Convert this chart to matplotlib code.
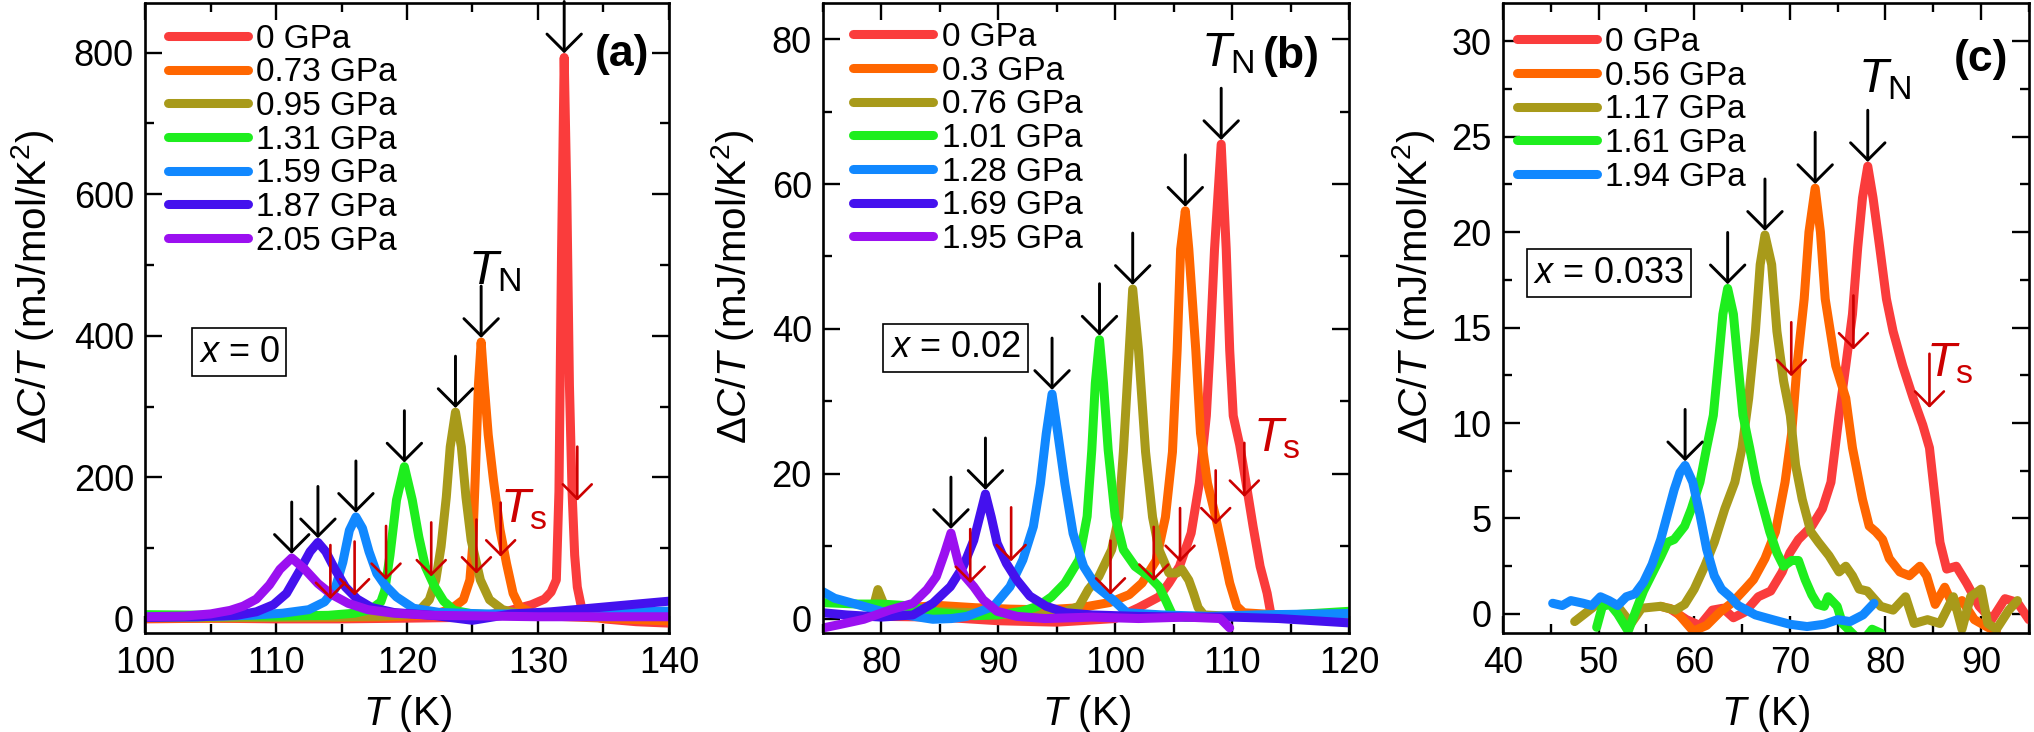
import matplotlib
matplotlib.use("Agg")
import matplotlib.pyplot as plt
from matplotlib.ticker import MultipleLocator

# ---------------- panel (a) : x = 0 ----------------
A_LABELS = ["0 GPa", "0.73 GPa", "0.95 GPa", "1.31 GPa", "1.59 GPa", "1.87 GPa", "2.05 GPa"]

A_T_0 = [100, 105, 110, 115, 120, 124, 126, 127.5, 128.5, 129.5, 130.5, 131.0, 131.4, 131.6, 131.8,
         132.0, 132.2, 132.4, 132.6, 132.8, 133.0, 133.3, 133.8, 135, 137.5, 140]
A_C_0 = [0, 1, 0, 0, 1, 2, 5, 10, 15, 20, 28, 38, 55, 180, 520,
         793, 600, 330, 180, 90, 45, 18, 6, 0, -4, -6]

A_T_1 = [100, 105, 110, 115, 119, 121, 122.3, 123.3, 124.3, 124.8, 125.0, 125.2, 125.45, 125.66,
         125.9, 126.2, 126.6, 127.1, 127.6, 128.1, 128.6, 129.6, 131, 135, 140]
A_C_1 = [1, 1, 2, 2, 3, 5, 8, 13, 27, 55, 100, 195, 330, 391,
         330, 260, 196, 126, 78, 36, 17, 8, 4, 1, -3]

A_T_2 = [100, 105, 110, 115, 118, 120, 121, 121.7, 122.2, 122.6, 123.0, 123.3, 123.7, 124.15,
         124.5, 124.9, 125.6, 126.3, 127.3, 128.4, 131, 135, 140]
A_C_2 = [2, 2, 2, 3, 4, 6, 13, 27, 55, 102, 172, 243, 292, 243,
         172, 111, 55, 27, 13, 8, 5, 4, 4]

A_T_3 = [100, 105, 110, 114, 116, 117.2, 118.0, 118.3, 118.7, 119.2, 119.8, 120.4, 120.9, 121.4,
         122.1, 122.8, 123.6, 125, 128, 132, 136, 140]
A_C_3 = [6, 5, 4, 5, 8, 13, 24, 40, 90, 168, 215, 168, 116, 74,
         46, 25, 12, 7, 5, 4, 4, 5]

A_T_4 = [100, 104, 108, 110.5, 112.5, 113.7, 114.5, 115.1, 115.6, 116.1, 116.6, 117.1, 117.7,
         118.3, 119.2, 120.5, 122.5, 126, 130, 135, 140]
A_C_4 = [3, 3, 5, 8, 13, 24, 42, 80, 125, 144, 128, 95, 64,
         48, 31, 15, 9, 7, 7, 9, 11]

A_T_5 = [100, 104, 107, 108.5, 109.8, 110.8, 111.8, 112.6, 113.2, 113.8, 114.5, 115.3, 116.2,
         117.3, 119, 122, 125, 128, 131, 134, 137, 140]
A_C_5 = [2, 3, 5, 10, 20, 36, 68, 95, 108, 95, 70, 45, 28,
         16, 9, 5, -2, 7, 10, 15, 20, 25]

A_T_6 = [100, 103, 105, 106.5, 107.5, 108.5, 109.5, 110.3, 111.2, 112.2, 113.2, 114.2, 115.5,
         117, 119, 122, 126, 130, 135, 140]
A_C_6 = [3, 4, 7, 12, 18, 28, 48, 70, 86, 70, 50, 35, 22,
         13, 8, 5, 4, 3, 3, 3]

A_TN_T = [132.0, 125.66, 123.7, 119.8, 116.1, 113.2, 111.2]
A_TN_C = [793, 391, 292, 215, 144, 108, 86]
A_TS_T = [133.0, 127.15, 125.3, 121.85, 118.4, 116.0, 114.15]
A_TS_C = [167, 88, 64, 60, 55, 33, 28]

# ---------------- panel (b) : x = 0.02 ----------------
B_LABELS = ["0 GPa", "0.3 GPa", "0.76 GPa", "1.01 GPa", "1.28 GPa", "1.69 GPa", "1.95 GPa"]

B_T_0 = [80, 85, 90, 95, 100, 102, 103.75, 104.6, 105.5, 106.5, 107.2, 107.8, 108.1, 108.5, 109.07,
         109.5, 109.8, 110.1, 110.65, 111.2, 111.8, 112.4, 113.0, 113.3, 114, 117, 120]
B_C_0 = [0.3, 0.2, -0.3, -0.5, 0, 1.5, 3, 4.9, 7.2, 11.8, 18.7, 28, 37, 51, 65.5,
         51, 37, 28, 24, 18.7, 12.7, 7.2, 3.5, 0.8, 0.2, 0.3, 0.2]

B_T_1 = [79.5, 82, 85, 88, 91, 94, 97, 99.5, 101.2, 102.3, 103.5, 104.3, 104.9, 105.3, 105.6, 106.0,
         106.3, 106.9, 107.3, 107.9, 108.6, 109.2, 109.8, 110.4, 111, 114, 117, 120]
B_C_1 = [1.5, 1.5, 1.8, 1.5, 1.3, 1.2, 1.5, 2.2, 3.3, 4.9, 8, 14, 23, 37, 51, 56.3,
         51, 37, 25.6, 18.7, 14, 9.5, 4.9, 1.7, 0.8, 0.5, 0.5, 0.5]

B_T_2 = [79.3, 79.7, 80.2, 81, 84, 88, 92, 95, 96.9, 97.7, 98.6, 99.7, 100.3, 100.7, 101.2, 101.5,
         102.0, 102.6, 103.2, 103.75, 104.6, 105.3, 105.7, 106.3, 106.7, 107.1, 107.6, 110, 114, 120]
B_C_2 = [1.5, 4, 2, 1.2, 1, 0.8, 0.5, 0.5, 1.7, 4, 5.8, 9.5, 14, 23, 37, 45.5,
         37, 23, 14, 9.5, 6.3, 6.3, 6.8, 5.3, 3.5, 1.5, 0.5, 0.3, 0.3, 0.5]

B_T_3 = [75, 78, 80, 82, 85, 88, 90, 92, 93.4, 94.55, 95.7, 96.9, 97.6, 98.0, 98.3, 98.66,
         99.0, 99.4, 100.0, 100.7, 101.7, 102.9, 103.75, 104.3, 104.9, 106, 110, 115, 120]
B_C_3 = [2.2, 2.0, 2.0, 1.8, 0.8, 0.4, 0.5, 1.0, 1.7, 3, 4.9, 8.1, 14.1, 23.3, 32.5, 38.5,
         32.5, 23.3, 14.1, 9.5, 7.2, 5.8, 4.4, 2.6, 0.5, 0.2, 0.3, 0.5, 1.0]

B_T_4 = [75, 76, 77.8, 80, 82, 84.4, 86, 87.3, 89.6, 91.0, 92.1, 93.0, 93.6, 94.1, 94.6,
         95.1, 95.7, 96.4, 97.3, 98.4, 99.8, 101, 104, 108, 112, 116, 120]
B_C_4 = [3.7, 2.8, 2.0, 1.0, 0.5, -0.1, 0, 0.3, 1.7, 4.4, 8.1, 12.7, 18.6, 25.5, 31,
         25.5, 18.6, 11.75, 7.2, 4.4, 2.6, 0.8, 0.5, 0.3, 0.5, 0.6, 0.7]

B_T_5 = [75, 77, 80, 82.7, 84.4, 85.9, 87.0, 87.9, 88.4, 88.9, 89.4, 89.9, 90.7, 91.6, 92.7,
         94.1, 95.8, 98, 102, 106, 110, 114, 117, 120]
B_C_5 = [0.8, 0.5, 0.2, 0.5, 2.1, 4.4, 7.2, 10.8, 14, 17.2, 14, 10.4, 7.6, 5.3, 3.1,
         1.7, 0.8, 0.5, 0.3, 0.2, 0.2, 0, -0.3, -0.6]

B_T_6 = [75, 76.5, 78.5, 80.75, 82.7, 83.9, 84.7, 85.4, 85.95, 86.6, 87.15, 87.9, 88.7, 89.9,
         91.6, 94, 98, 102, 106, 109, 109.8]
B_C_6 = [-1.3, -0.8, -0.1, 1.2, 2.1, 4, 5.8, 9, 11.8, 7.6, 5.8, 4.4, 2.6, 1,
         0.3, 0, 0.2, 0, 0.2, 0, -1.3]

B_TN_T = [109.07, 106.0, 101.5, 98.66, 94.6, 88.9, 85.95]
B_TN_C = [65.5, 56.3, 45.5, 38.5, 31, 17.2, 11.8]
B_TS_T = [111.05, 108.6, 105.55, 103.3, 99.6, 91.1, 87.6]
B_TS_C = [16.8, 13.0, 7.8, 5.2, 3.3, 7.9, 4.9]

# ---------------- panel (c) : x = 0.033 ----------------
C_LABELS = ["0 GPa", "0.56 GPa", "1.17 GPa", "1.61 GPa", "1.94 GPa"]

C_T_0 = [57.4, 59.2, 60.6, 61.9, 63.0, 64.1, 65.3, 66.7, 68.0, 69.2, 70.0, 70.9, 72.3, 73.4, 74.3,
         75.15, 75.85, 76.55, 77.1, 77.6, 78.15, 78.7, 79.4, 80.1, 80.8, 81.8, 82.9, 83.9, 84.6,
         85.2, 85.7, 86.4, 87.4, 88.5, 89.8, 91.1, 92.5, 93.8, 95.0]
C_C_0 = [0.3, -0.3, -0.6, 0.2, 0.3, -0.2, 0.1, 0.9, 1.2, 2.2, 3.2, 3.9, 4.6, 5.5, 6.9,
         10.4, 13.0, 15.7, 19.2, 21.8, 23.45, 21.8, 19.2, 16.5, 14.8, 13.0, 11.3, 9.9, 8.7,
         6.0, 3.75, 2.35, 2.5, 1.6, 0.4, -0.3, 0.8, 0.6, -0.3]

C_T_1 = [56.5, 58, 59.9, 61.3, 62.7, 64, 65.3, 66.2, 67.4, 68.5, 69.5, 70.2, 70.75, 71.5, 72.0,
         72.65, 73.2, 73.7, 74.8, 75.85, 76.55, 77.6, 78.3, 79.0, 79.7, 80.4, 81.5, 82.5, 83.6,
         84.3, 85.2, 86.2, 87.1, 88.0, 89.3, 90.7, 91.6]
C_C_1 = [0.4, 0.2, -0.9, -0.6, 0.1, 0.6, 1.3, 1.8, 2.9, 4.3, 6.9, 9.5, 13.0, 16.5, 20.0,
         22.3, 20.0, 16.5, 13.0, 11.3, 8.7, 6.0, 4.6, 4.3, 3.9, 2.9, 2.2, 2.0, 2.5,
         2.0, 0.5, 1.4, 0.4, 0.7, -0.3, -0.7, -0.9]

C_T_2 = [47.5, 49.3, 50.2, 52.0, 53.4, 54.5, 56.5, 58.0, 59.0, 60.0, 61.1, 62.1, 63.2, 64.25, 65.0,
         65.7, 66.4, 66.9, 67.4, 68.1, 68.65, 69.35, 70.05, 70.6, 71.3, 72.2, 73.0, 74.1, 75.15,
         75.85, 76.55, 77.25, 78.1, 79.5, 80.8, 82.1, 83.0, 84.4, 85.7, 87.1, 88.0, 88.9, 90.0,
         90.7, 91.6, 92.9, 93.8]
C_C_2 = [-0.4, 0.3, 0.7, 0.4, -0.5, 0.3, 0.4, 0.2, 0.5, 1.3, 2.5, 3.75, 5.5, 6.9, 8.7,
         11.3, 14.8, 18.3, 19.85, 18.3, 14.8, 12.2, 10.4, 7.8, 6.0, 4.3, 3.75, 3.05, 2.2,
         2.5, 2.0, 1.3, 1.2, 0.4, 0.2, 0.9, -0.5, -0.3, -0.5, 0.9, -0.8, 0.9, 1.3,
         -0.5, -0.8, 0.2, 0.7]

C_T_3 = [49.8, 50.4, 51.2, 52.0, 53.1, 54.0, 54.7, 55.5, 56.5, 57.2, 57.9, 59.0, 59.7, 60.6, 61.3,
         62.0, 62.5, 63.0, 63.5, 64.1, 64.6, 65.1, 65.8, 66.5, 67.25, 67.9, 68.65, 69.35, 70.2,
         70.9, 71.6, 72.3, 72.9, 73.6, 74.0, 74.95, 75.5, 76.3, 77.5, 78.6, 79.5]
C_C_3 = [-0.7, 0.4, 0.5, 0.0, -0.9, 0.3, 1.2, 2.0, 3.0, 3.75, 3.9, 4.6, 5.5, 6.9, 8.7,
         10.4, 13.0, 15.7, 17.05, 15.7, 13.0, 10.4, 8.7, 6.9, 5.5, 4.3, 3.2, 2.5, 2.8,
         2.8, 1.8, 1.0, 0.5, 0.4, 0.9, 0.4, -0.5, -0.9, -1.5, -0.8, -1.0]

C_T_4 = [45.2, 46.2, 47.1, 48.4, 49.3, 50.2, 51.1, 52.0, 52.9, 53.8, 54.7, 55.6, 56.5, 57.2, 57.9,
         58.5, 59.05, 59.85, 60.6, 61.3, 62.1, 62.85, 63.7, 64.6, 66.4, 68.2, 70.0, 71.8, 73.6,
         75.0, 76.3, 77.65, 78.8]
C_C_4 = [0.56, 0.44, 0.7, 0.56, 0.44, 0.9, 0.7, 0.44, 0.9, 1.05, 1.66, 2.6, 3.9, 5.2, 6.5,
         7.4, 7.78, 6.9, 5.2, 3.4, 2.0, 1.3, 0.93, 0.44, -0.05, -0.3, -0.54, -0.66, -0.54,
         -0.3, -0.4, -0.05, 0.56]

C_TN_T = [78.15, 72.65, 67.4, 63.5, 59.05]
C_TN_C = [23.45, 22.3, 19.85, 17.05, 7.78]
C_TS_T = [84.6, 76.65, 70.15]
C_TS_C = [10.8, 13.85, 12.45]

COLORS7 = ["#fa3c3c", "#ff6600", "#a89a1a", "#1eee1e", "#1188ff", "#4411ee", "#9b10f0"]
COLORS5 = ["#fa3c3c", "#ff6600", "#a89a1a", "#1eee1e", "#1188ff"]
TS_COLOR = "#cc0000"

plt.rcParams.update({
    "font.family": ["Liberation Sans", "DejaVu Sans"],
    "mathtext.fontset": "custom",
    "mathtext.rm": "Liberation Sans",
    "mathtext.it": "Liberation Sans:italic",
    "mathtext.bf": "Liberation Sans:bold",
    "axes.linewidth": 1.9,
    "xtick.direction": "in",
    "ytick.direction": "in",
    "xtick.top": True,
    "ytick.right": True,
    "xtick.minor.visible": True,
    "ytick.minor.visible": True,
    "xtick.major.size": 12,
    "ytick.major.size": 12,
    "xtick.minor.size": 6.5,
    "ytick.minor.size": 6.5,
    "xtick.major.width": 1.7,
    "ytick.major.width": 1.7,
    "xtick.minor.width": 1.7,
    "ytick.minor.width": 1.7,
    "xtick.labelsize": 26,
    "ytick.labelsize": 26,
    "xtick.major.pad": 9,
    "ytick.major.pad": 8,
})


def down_arrow(ax, x, y, color, length, lw, head, gap=2):
    ax.annotate("", xy=(x, y), xytext=(0, length), textcoords="offset pixels",
                arrowprops=dict(arrowstyle=f"->, head_length={head}, head_width={head}",
                                color=color, lw=lw, shrinkA=0, shrinkB=gap,
                                mutation_scale=20))


def draw_panel(ax, curves, labels, colors, tn, ts, xlim, ylim, xmaj, ymaj, ymin):
    for (t, c), lab, col in zip(curves, labels, colors):
        ax.plot(t, c, color=col, lw=6.5, label=lab, solid_joinstyle="round",
                solid_capstyle="round")
    for x, y in zip(*tn):
        down_arrow(ax, x, y, "black", 56, 2.1, 0.62, gap=3)
    for x, y in zip(*ts):
        down_arrow(ax, x, y, TS_COLOR, 54, 1.9, 0.52, gap=0)
    ax.set_xlim(*xlim)
    ax.set_ylim(*ylim)
    ax.xaxis.set_major_locator(MultipleLocator(xmaj))
    ax.xaxis.set_minor_locator(MultipleLocator(5))
    ax.yaxis.set_major_locator(MultipleLocator(ymaj))
    ax.yaxis.set_minor_locator(MultipleLocator(ymin))
    ax.set_xlabel("$T$ (K)", fontsize=29, labelpad=9)
    ax.set_ylabel("Δ$C/T$ (mJ/mol/K$^2$)", fontsize=29)


fig = plt.figure(figsize=(20.34, 7.32), dpi=100)
ax_a = fig.add_axes([0.0713, 0.1352, 0.2576, 0.8607])
ax_b = fig.add_axes([0.4046, 0.1352, 0.2586, 0.8607])
ax_c = fig.add_axes([0.7389, 0.1352, 0.2586, 0.8607])

draw_panel(ax_a,
           [(A_T_0, A_C_0), (A_T_1, A_C_1), (A_T_2, A_C_2), (A_T_3, A_C_3),
            (A_T_4, A_C_4), (A_T_5, A_C_5), (A_T_6, A_C_6)],
           A_LABELS, COLORS7, (A_TN_T, A_TN_C), (A_TS_T, A_TS_C),
           (100, 140), (-20, 870), 10, 200, 100)
draw_panel(ax_b,
           [(B_T_0, B_C_0), (B_T_1, B_C_1), (B_T_2, B_C_2), (B_T_3, B_C_3),
            (B_T_4, B_C_4), (B_T_5, B_C_5), (B_T_6, B_C_6)],
           B_LABELS, COLORS7, (B_TN_T, B_TN_C), (B_TS_T, B_TS_C),
           (75, 120), (-2, 85), 10, 20, 10)
draw_panel(ax_c,
           [(C_T_0, C_C_0), (C_T_1, C_C_1), (C_T_2, C_C_2), (C_T_3, C_C_3),
            (C_T_4, C_C_4)],
           C_LABELS, COLORS5, (C_TN_T, C_TN_C), (C_TS_T, C_TS_C),
           (40, 95), (-1, 32), 10, 5, 2.5)

ax_a.yaxis.set_label_coords(-0.17, 0.55)
ax_b.yaxis.set_label_coords(-0.127, 0.55)
ax_c.yaxis.set_label_coords(-0.125, 0.55)

leg_kw = dict(loc="upper left", frameon=False, fontsize=24, handlelength=2.4,
              handletextpad=0.25, labelspacing=0.08, borderpad=0, borderaxespad=0)
ax_a.legend(bbox_to_anchor=(0.044, 0.967), **leg_kw)
ax_b.legend(bbox_to_anchor=(0.058, 0.970), **leg_kw)
ax_c.legend(bbox_to_anchor=(0.027, 0.962), **leg_kw)

box = dict(boxstyle="square,pad=0.18", fc="white", ec="black", lw=1.2)
ax_a.text(0.18, 0.446, "$x$ = 0", transform=ax_a.transAxes, fontsize=26,
          ha="center", va="center", bbox=box)
ax_b.text(0.252, 0.453, "$x$ = 0.02", transform=ax_b.transAxes, fontsize=26,
          ha="center", va="center", bbox=box)
ax_c.text(0.2015, 0.571, "$x$ = 0.033", transform=ax_c.transAxes, fontsize=26,
          ha="center", va="center", bbox=box)

for ax, lab, pos in [(ax_a, "(a)", (0.91, 0.918)), (ax_b, "(b)", (0.89, 0.915)),
                     (ax_c, "(c)", (0.909, 0.91))]:
    ax.text(pos[0], pos[1], lab, transform=ax.transAxes, fontsize=32,
            fontweight="bold", ha="center", va="center")

ax_a.text(126.7, 491, r"$T_{\mathrm{N}}$", fontsize=35, ha="center", va="center")
ax_b.text(109.6, 78, r"$T_{\mathrm{N}}$", fontsize=35, ha="center", va="center")
ax_c.text(79.9, 28.0, r"$T_{\mathrm{N}}$", fontsize=35, ha="center", va="center")
ax_a.text(128.9, 154, r"$T_{\mathrm{s}}$", fontsize=35, color=TS_COLOR, ha="center", va="center")
ax_b.text(113.8, 24.9, r"$T_{\mathrm{s}}$", fontsize=35, color=TS_COLOR, ha="center", va="center")
ax_c.text(86.75, 13.1, r"$T_{\mathrm{s}}$", fontsize=35, color=TS_COLOR, ha="center", va="center")

fig.savefig("out.png", dpi=100)
plt.close(fig)
